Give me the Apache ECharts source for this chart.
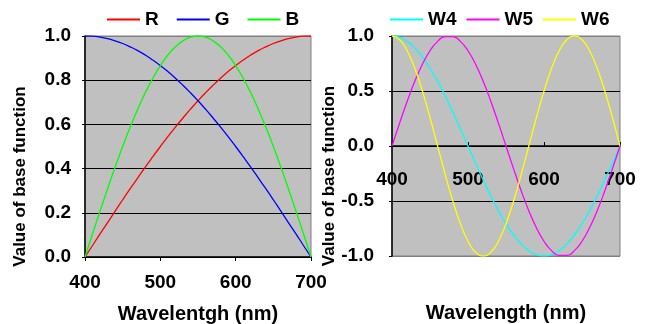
<!DOCTYPE html>
<html>
<head>
<meta charset="utf-8">
<script src="https://cdn.jsdelivr.net/npm/echarts@6/dist/echarts.min.js"></script>
<style>
  html, body { margin: 0; padding: 0; background: #fff; }
  #chart { width: 651px; height: 324px; }
</style>
</head>
<body>
<div id="chart"></div>
<script>
// wavelengths (nm)
var wavelength = [400, 410, 420, 430, 440, 450, 460, 470, 480, 490, 500, 510, 520, 530, 540, 550,
  560, 570, 580, 590, 600, 610, 620, 630, 640, 650, 660, 670, 680, 690, 700];

// left panel
var R = [0, 0.052, 0.105, 0.156, 0.208, 0.259, 0.309, 0.358, 0.407, 0.454, 0.5, 0.545, 0.588, 0.629, 0.669, 0.707,
  0.743, 0.777, 0.809, 0.839, 0.866, 0.891, 0.914, 0.934, 0.951, 0.966, 0.978, 0.988, 0.995, 0.999, 1.0];
var G = [1.0, 0.999, 0.995, 0.988, 0.978, 0.966, 0.951, 0.934, 0.914, 0.891, 0.866, 0.839, 0.809, 0.777, 0.743, 0.707,
  0.669, 0.629, 0.588, 0.545, 0.5, 0.454, 0.407, 0.358, 0.309, 0.259, 0.208, 0.156, 0.105, 0.052, 0];
var B = [0, 0.105, 0.208, 0.309, 0.407, 0.5, 0.588, 0.669, 0.743, 0.809, 0.866, 0.914, 0.951, 0.978, 0.995, 1.0,
  0.995, 0.978, 0.951, 0.914, 0.866, 0.809, 0.743, 0.669, 0.588, 0.5, 0.407, 0.309, 0.208, 0.105, 0];

// right panel
var W4 = [1.0, 0.988, 0.951, 0.891, 0.809, 0.707, 0.588, 0.454, 0.309, 0.156, 0, -0.156, -0.309, -0.454, -0.588, -0.707,
  -0.809, -0.891, -0.951, -0.988, -1.0, -0.988, -0.951, -0.891, -0.809, -0.707, -0.588, -0.454, -0.309, -0.156, 0];
var W5 = [0, 0.208, 0.407, 0.588, 0.743, 0.866, 0.951, 0.995, 0.995, 0.951, 0.866, 0.743, 0.588, 0.407, 0.208, 0,
  -0.208, -0.407, -0.588, -0.743, -0.866, -0.951, -0.995, -0.995, -0.951, -0.866, -0.743, -0.588, -0.407, -0.208, 0];
var W6 = [1.0, 0.966, 0.866, 0.707, 0.5, 0.259, 0, -0.259, -0.5, -0.707, -0.866, -0.966, -1.0, -0.966, -0.866, -0.707,
  -0.5, -0.259, 0, 0.259, 0.5, 0.707, 0.866, 0.966, 1.0, 0.966, 0.866, 0.707, 0.5, 0.259, 0];

var xTicks = [400, 500, 600, 700];
var leftTicks = [0, 0.2, 0.4, 0.6, 0.8, 1.0];
var rightTicks = [-1.0, -0.5, 0, 0.5, 1.0];

var FONT = '"Liberation Sans", Arial, sans-serif';
var labelStyle = { color: '#000', fontFamily: FONT, fontWeight: 'bold', fontSize: 19 };
var xNameStyle = { color: '#000', fontFamily: FONT, fontWeight: 'bold', fontSize: 20 };
var yNameStyle = { color: '#000', fontFamily: FONT, fontWeight: 'bold', fontSize: 17 };

function pairs(ys) {
  return wavelength.map(function (x, i) { return [x, ys[i]]; });
}

function line(name, ys, color, idx) {
  return {
    name: name,
    type: 'line',
    xAxisIndex: idx,
    yAxisIndex: idx,
    data: pairs(ys),
    smooth: true,
    showSymbol: false,
    lineStyle: { color: color, width: 1.3 },
    itemStyle: { color: color }
  };
}

var chart = echarts.init(document.getElementById('chart'));
chart.setOption({
  animation: false,
  backgroundColor: '#fff',
  legend: [
    {
      data: ['R', 'G', 'B'],
      left: 102, top: 5,
      icon: 'rect', itemWidth: 33, itemHeight: 2, itemGap: 18,
      textStyle: { color: '#000', fontFamily: FONT, fontWeight: 'bold', fontSize: 19 }
    },
    {
      data: ['W4', 'W5', 'W6'],
      left: 385, top: 5,
      icon: 'rect', itemWidth: 33, itemHeight: 2, itemGap: 10,
      textStyle: { color: '#000', fontFamily: FONT, fontWeight: 'bold', fontSize: 19 }
    }
  ],
  grid: [
    { left: 85, right: 340, top: 36, bottom: 67, outerBoundsMode: 'none', containLabel: false,
      show: true, backgroundColor: '#C0C0C0', borderColor: '#808080', borderWidth: 1 },
    { left: 392, right: 31, top: 36, bottom: 68, outerBoundsMode: 'none', containLabel: false,
      show: true, backgroundColor: '#C0C0C0', borderColor: '#808080', borderWidth: 1 }
  ],
  xAxis: [
    {
      gridIndex: 0, type: 'value', min: xTicks[0], max: xTicks[xTicks.length - 1], interval: 100,
      name: 'Wavelentgh (nm)', nameLocation: 'middle', nameGap: 47, nameTextStyle: xNameStyle,
      axisLine: { show: true, lineStyle: { color: '#000', width: 1.5 } },
      axisTick: { show: true, length: 4, lineStyle: { color: '#000' } },
      axisLabel: Object.assign({ margin: 16 }, labelStyle),
      splitLine: { show: false }
    },
    {
      // axis sits on the zero line of the right panel
      gridIndex: 1, type: 'value', min: xTicks[0], max: xTicks[xTicks.length - 1], interval: 100,
      position: 'bottom', offset: -110,
      name: 'Wavelength (nm)', nameLocation: 'middle', nameGap: 157, nameTextStyle: xNameStyle,
      axisLine: { show: true, onZero: false, lineStyle: { color: '#000', width: 1.5 } },
      axisTick: { show: true, inside: true, length: 4, lineStyle: { color: '#000' } },
      axisLabel: Object.assign({ margin: 24 }, labelStyle),
      splitLine: { show: false }
    }
  ],
  yAxis: [
    {
      gridIndex: 0, type: 'value', min: leftTicks[0], max: leftTicks[leftTicks.length - 1], interval: 0.2,
      name: 'Value of base function', nameLocation: 'middle', nameGap: 56, nameRotate: 90,
      nameTextStyle: Object.assign({ padding: [0, 60, 0, 0] }, yNameStyle),
      axisLine: { show: true, lineStyle: { color: '#000', width: 1.5 } },
      axisTick: { show: true, length: 3, lineStyle: { color: '#000' } },
      axisLabel: Object.assign({ margin: 14, formatter: function (v) { return v.toFixed(1); } }, labelStyle),
      splitLine: { show: true, lineStyle: { color: ['#000', '#000', '#000', '#000', '#000', '#808080'], width: 1.2 } }
    },
    {
      gridIndex: 1, type: 'value', min: rightTicks[0], max: rightTicks[rightTicks.length - 1], interval: 0.5,
      name: 'Value of base function', nameLocation: 'middle', nameGap: 54, nameRotate: 90,
      nameTextStyle: Object.assign({ padding: [0, 60, 0, 0] }, yNameStyle),
      axisLine: { show: true, lineStyle: { color: '#000', width: 1.5 } },
      axisTick: { show: true, length: 3, lineStyle: { color: '#000' } },
      axisLabel: Object.assign({ margin: 18, formatter: function (v) { return v.toFixed(1); } }, labelStyle),
      splitLine: { show: true, lineStyle: { color: ['#808080', '#000', '#000', '#000', '#808080'], width: 1.2 } }
    }
  ],
  series: [
    line('R', R, '#FF0000', 0),
    line('G', G, '#0000FF', 0),
    line('B', B, '#00FF00', 0),
    line('W4', W4, '#00FFFF', 1),
    line('W5', W5, '#FF00FF', 1),
    line('W6', W6, '#FFFF00', 1)
  ]
});
</script>
</body>
</html>
